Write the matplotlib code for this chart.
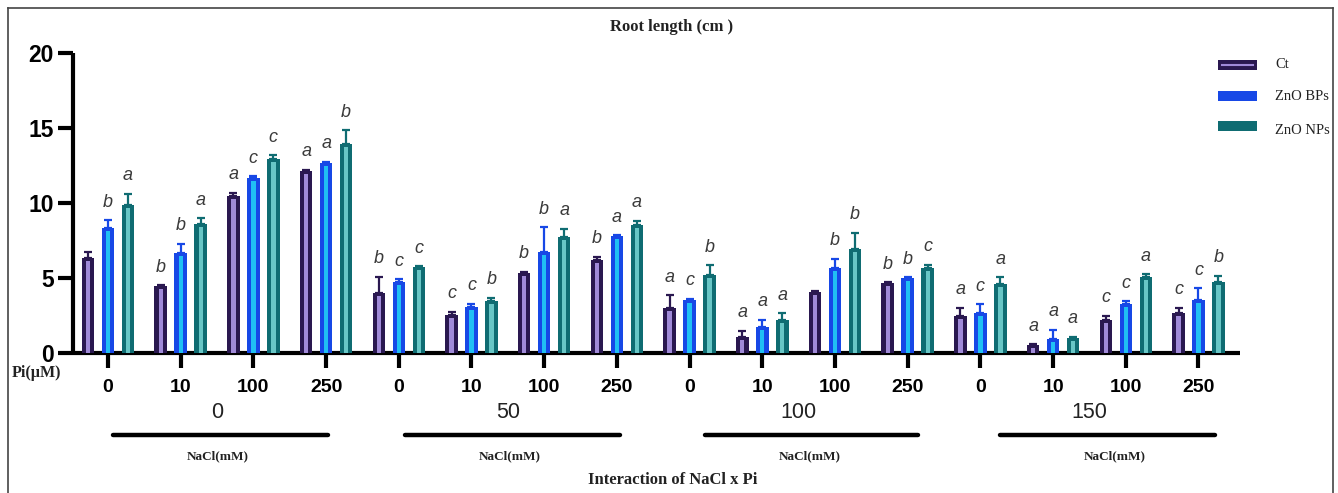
import matplotlib
matplotlib.use("Agg")
import matplotlib.pyplot as plt
from matplotlib.lines import Line2D
from matplotlib.patches import Rectangle
import numpy as np

# ---- data -------------------------------------------------------------
nacl_levels = ["0", "50", "100", "150"]
pi_levels = ["0", "10", "100", "250"]
series_names = ["Ct", "ZnO BPs", "ZnO NPs"]

ct_mean = [6.35, 4.48, 10.5, 12.13, 4.0, 2.55, 5.35, 6.2, 3.0, 1.05, 4.07, 4.66, 2.5, 0.51, 2.17, 2.7]
ct_sd = [0.4, 0.05, 0.2, 0.07, 1.07, 0.2, 0.07, 0.2, 0.85, 0.45, 0.06, 0.05, 0.52, 0.07, 0.33, 0.32]
bp_mean = [8.36, 6.65, 11.7, 12.68, 4.72, 3.1, 6.75, 7.78, 3.55, 1.71, 5.65, 4.99, 2.7, 0.92, 3.24, 3.55]
bp_sd = [0.5, 0.65, 0.07, 0.06, 0.2, 0.18, 1.65, 0.07, 0.07, 0.5, 0.65, 0.05, 0.54, 0.62, 0.2, 0.77]
np_mean = [9.85, 8.58, 12.95, 13.92, 5.72, 3.5, 7.76, 8.51, 5.23, 2.22, 6.96, 5.7, 4.63, 1.02, 5.06, 4.72]
np_sd = [0.75, 0.4, 0.22, 0.94, 0.07, 0.2, 0.53, 0.31, 0.62, 0.44, 1.07, 0.2, 0.43, 0.07, 0.19, 0.42]

ct_letters = ["", "b", "a", "a", "b", "c", "b", "b", "a", "a", "", "b", "a", "a", "c", "c"]
bp_letters = ["b", "b", "c", "a", "c", "c", "b", "a", "c", "a", "b", "b", "c", "a", "c", "c"]
np_letters = ["a", "a", "c", "b", "c", "b", "a", "a", "b", "a", "b", "c", "a", "a", "a", "b"]

# ---- styling ----------------------------------------------------------
outer_cols = ["#2a1850", "#1748e6", "#0f6c72"]
inner_cols = ["#a08ad8", "#20c0f4", "#68c6c6"]

W, H = 1338, 493
fig = plt.figure(figsize=(W / 100, H / 100), dpi=100)


def fx(px):
    return px / W


def fy(py):
    return 1 - py / H


ax = fig.add_axes([fx(73), fy(353), fx(1240) - fx(73), fy(53) - fy(353)])

n = len(ct_mean)
x = np.arange(n)
offsets = [-0.275, 0.0, 0.275]
bar_w = 0.172
inner_w = 0.058

means = [ct_mean, bp_mean, np_mean]
sds = [ct_sd, bp_sd, np_sd]
letters = [ct_letters, bp_letters, np_letters]

for k in range(3):
    xs = x + offsets[k]
    m = np.array(means[k])
    s = np.array(sds[k])
    ax.errorbar(xs, m, yerr=[np.zeros(n), s], fmt="none", ecolor=outer_cols[k],
                elinewidth=1.6, capsize=3.2, capthick=1.6, zorder=2)
    ax.bar(xs, m, width=bar_w, color=outer_cols[k], zorder=3)
    ax.bar(xs, np.clip(m - 0.2, 0, None), width=inner_w, color=inner_cols[k], zorder=4)
    for xi, top, lab in zip(xs, m + s, letters[k]):
        if lab:
            ax.text(xi, top + 0.9, lab, ha="center", va="baseline", fontsize=13,
                    style="italic", color="#3a3a3a", family="Liberation Sans")

ax.set_xlim((73 - 108) / 72.7, (1240 - 108) / 72.7)
ax.set_ylim(0, 20)
for side in ["top", "right"]:
    ax.spines[side].set_visible(False)
for side in ["left", "bottom"]:
    ax.spines[side].set_linewidth(3)
    ax.spines[side].set_capstyle("butt")

ax.set_yticks([0, 5, 10, 15, 20])
ax.set_yticklabels(["0", "5", "10", "15", "20"], fontsize=16.5, fontweight="bold",
                   family="Liberation Sans")
ax.set_xticks(x)
ax.set_xticklabels(pi_levels * len(nacl_levels), fontsize=14, fontweight="bold",
                   family="Liberation Sans")
ax.tick_params(axis="both", length=11, width=3, pad=3)
ax.tick_params(axis="x", pad=8)

# NaCl group labels, underlines and captions
for g, lvl in enumerate(nacl_levels):
    cx = (4 * g + 1.5)
    ax.text(cx, -3.95, lvl, ha="center", va="center", fontsize=15.5,
            family="Liberation Sans", color="#222222", clip_on=False)

line_spans = [(113, 328), (405, 620), (705, 918), (1000, 1215)]
label_cx = [218, 510, 810, 1115]
for (a, b), cx in zip(line_spans, label_cx):
    fig.add_artist(Line2D([fx(a), fx(b)], [fy(435), fy(435)], color="black",
                          lw=3.2, solid_capstyle="round"))
    fig.text(fx(cx), fy(456), "NaCl(mM)", ha="center", va="center", fontsize=9.5,
             fontweight="bold", family="Liberation Serif", color="#222222")

fig.text(fx(673), fy(480), "Interaction of NaCl x Pi", ha="center", va="center",
         fontsize=12, fontweight="bold", family="Liberation Serif", color="#222222")
fig.text(fx(12), fy(373), "Pi(\u00b5M)", ha="left", va="center", fontsize=11.5,
         fontweight="bold", family="Liberation Serif", color="#222222")
fig.text(fx(672), fy(27), "Root length (cm )", ha="center", va="center", fontsize=12,
         fontweight="bold", family="Liberation Serif", color="#222222")

# legend
leg_y = [65, 96, 126]
leg_text_y = [64, 96, 131]
for k, name in enumerate(series_names):
    fig.add_artist(Rectangle((fx(1218), fy(leg_y[k] + 5)), fx(39), 10 / H,
                             facecolor=outer_cols[k], edgecolor="none"))
    fig.text(fx(1275), fy(leg_text_y[k]), name, ha="left", va="center", fontsize=10.5,
             family="Liberation Serif", color="#222222")
fig.add_artist(Line2D([fx(1222), fx(1253)], [fy(65), fy(65)], color=inner_cols[0], lw=1.5))

# frame around the figure
frame_kw = dict(color="#444444", lw=1.2)
fig.add_artist(Line2D([fx(8), fx(8)], [fy(493), fy(8)], **frame_kw))
fig.add_artist(Line2D([fx(8), fx(1333)], [fy(8), fy(8)], **frame_kw))
fig.add_artist(Line2D([fx(1333), fx(1333)], [fy(8), fy(493)], **frame_kw))

fig.savefig("out.png", dpi=100)
